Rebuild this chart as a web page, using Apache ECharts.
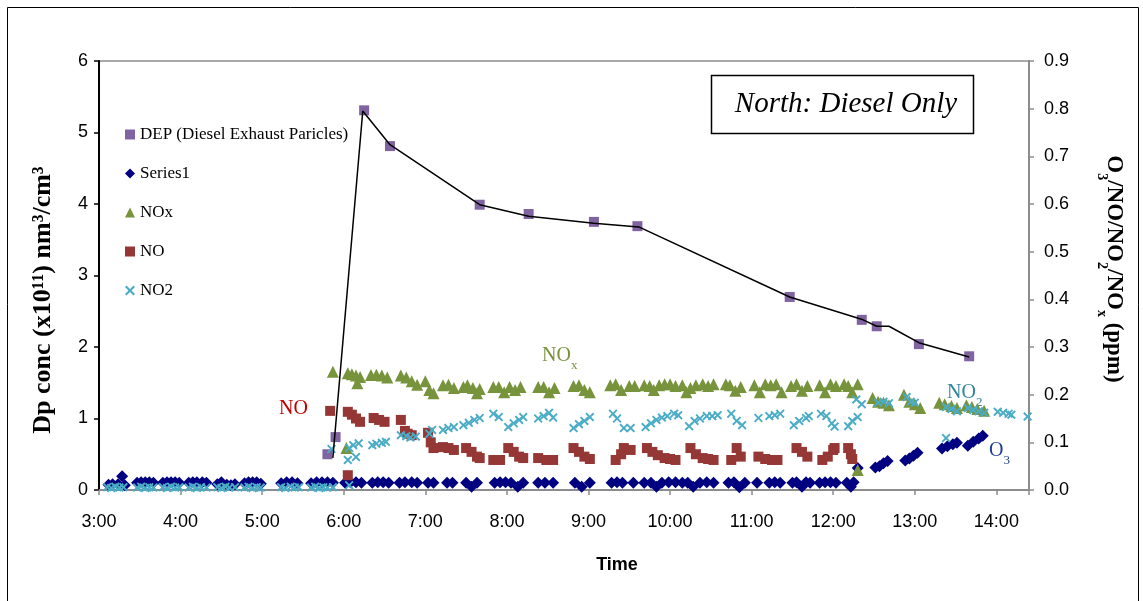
<!DOCTYPE html>
<html>
<head>
<meta charset="utf-8">
<script src="https://cdn.jsdelivr.net/npm/echarts@6/dist/echarts.min.js"></script>
<style>html,body{margin:0;padding:0;background:#fff}#c{width:1143px;height:601px}</style>
</head>
<body>
<div id="c"></div>
<script>
// ---- data (time "H:MM", value) ----
const xTickHours = [3,4,5,6,7,8,9,10,11,12,13,14];
const legendNames = ['DEP (Diesel Exhaust Paricles)','Series1','NOx','NO','NO2'];

// DEP particles (left axis, x10^11 nm3/cm3)
const dep = [['5:48',0.50],['5:54',0.74],['6:15',5.31],['6:34',4.81],['7:40',3.99],['8:16',3.86],['9:04',3.75],['9:36',3.69],['11:28',2.70],['12:21',2.38],['12:32',2.29],['13:03',2.04],['13:40',1.87]];
// black connecting line (left axis)
const depLine = [['5:52',0.45],['6:14',5.30],['6:34',4.83],['7:40',3.99],['8:16',3.83],['9:04',3.73],['9:37',3.68],['11:28',2.70],['12:22',2.38],['12:32',2.29],['12:41',2.29],['13:03',2.06],['13:40',1.86]];

// O3 = Series1 (right axis, ppm)
const o3 = [
['3:07',0.011],['3:10',0.012],['3:14',0.012],['3:17',0.029],['3:19',0.010],
['3:28',0.015],['3:31',0.016],['3:34',0.016],['3:37',0.016],['3:40',0.015],
['3:47',0.015],['3:50',0.016],['3:53',0.016],['3:56',0.016],['3:59',0.015],
['4:06',0.015],['4:09',0.016],['4:12',0.016],['4:16',0.016],['4:19',0.015],
['4:27',0.012],['4:30',0.016],['4:34',0.011],['4:37',0.010],['4:40',0.012],
['4:47',0.014],['4:50',0.016],['4:53',0.016],['4:56',0.016],['4:59',0.013],
['5:14',0.014],['5:18',0.016],['5:22',0.016],['5:26',0.014],
['5:36',0.014],['5:40',0.016],['5:44',0.016],['5:48',0.016],['5:52',0.015],
['6:01',0.015],['6:05',0.016],['6:09',0.016],['6:13',0.015],
['6:21',0.015],['6:25',0.016],['6:29',0.016],['6:33',0.015],
['6:41',0.015],['6:45',0.016],['6:50',0.016],['6:54',0.015],
['7:02',0.015],['7:06',0.015],['7:16',0.015],['7:20',0.015],
['7:30',0.015],['7:34',0.007],['7:38',0.015],
['7:51',0.015],['7:55',0.016],['7:59',0.016],['8:03',0.015],['8:08',0.007],['8:12',0.015],
['8:23',0.015],['8:28',0.015],['8:34',0.015],
['8:50',0.015],['8:55',0.007],['9:01',0.015],
['9:17',0.015],['9:21',0.016],['9:25',0.015],['9:33',0.015],
['9:41',0.015],['9:46',0.015],['9:50',0.007],['9:54',0.015],['9:59',0.016],['10:04',0.016],['10:09',0.015],['10:13',0.015],['10:17',0.007],['10:22',0.015],['10:27',0.016],['10:32',0.015],
['10:43',0.015],['10:47',0.016],['10:51',0.006],['10:55',0.015],
['11:04',0.015],['11:13',0.015],['11:17',0.016],['11:21',0.015],
['11:30',0.015],['11:33',0.016],['11:37',0.007],['11:40',0.016],['11:43',0.015],
['11:50',0.015],['11:54',0.016],['11:58',0.016],['12:02',0.015],
['12:10',0.015],['12:13',0.007],['12:15',0.016],
['12:18',0.046],
['12:31',0.047],['12:34',0.050],['12:37',0.056],['12:40',0.061],
['12:53',0.062],['12:56',0.066],['12:59',0.072],['13:02',0.078],
['13:20',0.087],['13:24',0.092],['13:28',0.096],['13:31',0.099],
['13:39',0.093],['13:43',0.101],['13:47',0.108],['13:50',0.114]
];

// NOx (right axis, ppm)
const nox = [
['5:52',0.248],['6:02',0.088],
['6:03',0.245],['6:06',0.243],['6:09',0.240],['6:10',0.224],['6:12',0.237],
['6:20',0.241],['6:24',0.242],['6:28',0.240],['6:32',0.236],
['6:42',0.240],['6:46',0.236],['6:50',0.228],['6:54',0.221],
['7:00',0.228],['7:03',0.210],['7:06',0.203],
['7:13',0.220],['7:17',0.221],['7:21',0.214],
['7:28',0.216],['7:31',0.220],['7:35',0.214],['7:38',0.203],['7:40',0.212],
['7:50',0.216],['7:54',0.216],['7:58',0.205],['8:02',0.216],['8:06',0.210],['8:10',0.216],
['8:23',0.216],['8:27',0.216],['8:31',0.205],['8:35',0.214],
['8:49',0.218],['8:53',0.220],['8:57',0.210],['9:01',0.205],
['9:16',0.220],['9:20',0.222],['9:24',0.210],['9:30',0.218],['9:34',0.218],
['9:41',0.220],['9:45',0.218],['9:48',0.210],['9:52',0.220],['9:56',0.222],['10:00',0.222],['10:04',0.218],
['10:09',0.220],['10:12',0.205],['10:15',0.214],['10:19',0.220],['10:24',0.222],['10:28',0.218],['10:32',0.222],
['10:41',0.222],['10:44',0.220],['10:48',0.208],['10:52',0.216],
['11:02',0.220],['11:06',0.205],['11:10',0.222],['11:14',0.220],['11:18',0.222],['11:22',0.205],
['11:29',0.218],['11:33',0.222],['11:37',0.208],['11:41',0.218],
['11:50',0.220],['11:54',0.205],['11:58',0.222],['12:02',0.218],
['12:08',0.222],['12:11',0.218],['12:14',0.205],['12:18',0.222],
['12:18',0.042],
['12:29',0.193],['12:33',0.185],['12:37',0.183],['12:41',0.178],
['12:52',0.200],['12:56',0.185],['13:00',0.180],['13:04',0.172],
['13:18',0.183],['13:22',0.180],['13:27',0.176],['13:31',0.172],
['13:38',0.178],['13:42',0.174],['13:46',0.170],['13:51',0.166]
];

// NO (right axis, ppm)
const no = [
['5:50',0.166],['6:03',0.031],
['6:03',0.164],['6:06',0.158],['6:09',0.150],['6:12',0.143],
['6:22',0.151],['6:26',0.147],['6:30',0.143],
['6:42',0.147],['6:45',0.124],['6:47',0.118],['6:50',0.115],
['7:02',0.120],['7:04',0.100],['7:06',0.088],
['7:13',0.090],['7:17',0.088],['7:21',0.084],
['7:30',0.088],['7:34',0.080],['7:38',0.070],['7:40',0.067],
['7:50',0.063],['7:55',0.063],
['8:01',0.088],['8:05',0.080],['8:09',0.070],['8:12',0.067],
['8:23',0.067],['8:29',0.063],['8:34',0.063],
['8:49',0.088],['8:53',0.080],['8:57',0.070],['9:01',0.065],
['9:20',0.063],['9:24',0.075],['9:26',0.088],['9:31',0.084],
['9:43',0.088],['9:47',0.080],['9:51',0.073],['9:56',0.067],['10:00',0.065],['10:04',0.063],
['10:15',0.088],['10:19',0.075],['10:24',0.067],['10:28',0.065],['10:32',0.063],
['10:45',0.063],['10:49',0.088],['10:52',0.070],
['11:05',0.070],['11:10',0.065],['11:15',0.063],['11:19',0.063],
['11:33',0.088],['11:37',0.080],['11:41',0.070],
['11:52',0.063],['11:56',0.070],['12:00',0.084],['12:01',0.088],
['12:11',0.088],['12:13',0.075],['12:14',0.065]
];

// NO2 (right axis, ppm)
const no2 = [
['3:06',0.006],['3:09',0.004],['3:12',0.007],['3:15',0.005],['3:18',0.006],
['3:28',0.005],['3:31',0.007],['3:34',0.004],['3:37',0.006],['3:40',0.005],
['3:47',0.006],['3:50',0.004],['3:53',0.007],['3:56',0.005],['3:59',0.006],
['4:06',0.005],['4:09',0.007],['4:12',0.004],['4:15',0.006],['4:19',0.005],
['4:27',0.006],['4:30',0.004],['4:33',0.007],['4:36',0.005],['4:40',0.006],
['4:47',0.005],['4:50',0.007],['4:53',0.004],['4:56',0.006],['4:59',0.005],
['5:14',0.006],['5:17',0.004],['5:21',0.007],['5:24',0.005],['5:27',0.006],
['5:36',0.005],['5:39',0.007],['5:42',0.004],['5:45',0.006],['5:48',0.005],['5:52',0.006],
['5:51',0.086],['6:04',0.010],
['6:03',0.063],['6:04',0.088],['6:07',0.094],['6:09',0.069],['6:11',0.098],
['6:21',0.094],['6:24',0.097],['6:28',0.099],['6:31',0.101],
['6:42',0.115],['6:46',0.113],['6:49',0.110],['6:53',0.112],
['7:03',0.118],['7:05',0.126],
['7:13',0.126],['7:17',0.130],['7:21',0.132],
['7:28',0.136],['7:32',0.141],['7:36',0.147],['7:40',0.151],
['7:50',0.160],['7:54',0.153],
['8:01',0.132],['8:05',0.140],['8:09',0.147],['8:12',0.153],
['8:23',0.150],['8:27',0.155],['8:31',0.162],['8:34',0.152],
['8:49',0.130],['8:53',0.138],['8:57',0.145],['9:01',0.153],
['9:18',0.160],['9:21',0.150],['9:26',0.130],['9:31',0.130],
['9:42',0.132],['9:46',0.140],['9:50',0.147],['9:54',0.152],['9:58',0.155],['10:03',0.160],['10:06',0.157],
['10:14',0.134],['10:18',0.145],['10:22',0.150],['10:27',0.155],['10:31',0.155],['10:35',0.157],
['10:45',0.160],['10:49',0.145],['10:53',0.136],
['11:05',0.151],['11:13',0.155],['11:17',0.157],['11:21',0.160],
['11:31',0.136],['11:35',0.145],['11:40',0.151],['11:42',0.155],
['11:51',0.160],['11:55',0.155],['11:59',0.140],['12:01',0.133],
['12:11',0.134],['12:14',0.145],['12:18',0.153],
['12:17',0.190],['12:21',0.180],
['12:33',0.183],['12:37',0.185],['12:41',0.182],
['12:54',0.195],['12:57',0.185],['13:00',0.183],
['13:23',0.109],
['13:23',0.174],['13:27',0.170],['13:31',0.165],
['13:39',0.172],['13:43',0.168],['13:47',0.165],['13:51',0.162],
['14:01',0.164],['14:05',0.162],['14:09',0.160],['14:11',0.158],
['14:23',0.154]
];

// ---- helpers ----
function hrs(s){ const p = s.split(':'); return +p[0] + (+p[1])/60; }
function pts(arr){ return arr.map(d => [hrs(d[0]), d[1]]); }

const SERIF = 'Liberation Serif';
const SANS = 'Liberation Sans';
const xPath = 'path://M0,1.5 L1.5,0 L5,3.5 L8.5,0 L10,1.5 L6.5,5 L10,8.5 L8.5,10 L5,6.5 L1.5,10 L0,8.5 L3.5,5 Z';

function subText(color, size, subSize, bold) {
  return {
    m: {fontFamily: SERIF, fontSize: size, fontWeight: bold ? 'bold' : 'normal', fill: color, color: color, lineHeight: Math.round(size*1.3), verticalAlign: 'top'},
    s: {fontFamily: SERIF, fontSize: subSize, fontWeight: bold ? 'bold' : 'normal', fill: color, color: color, lineHeight: subSize, verticalAlign: 'bottom'}
  };
}

const chart = echarts.init(document.getElementById('c'), null, {renderer:'canvas'});
chart.setOption({
  animation: false,
  backgroundColor: '#fff',
  grid: {left: 99, right: 114, top: 61, bottom: 111, show: true, borderColor: '#8c8c8c', borderWidth: 1.5},
  legend: {
    data: legendNames, orient: 'vertical', left: 120, top: 121,
    itemWidth: 10, itemHeight: 10, itemGap: 22, itemStyle: {borderWidth: 0},
    textStyle: {fontFamily: SERIF, fontSize: 17, color: '#000'}
  },
  xAxis: {
    type: 'value', min: 3, max: 14.4, interval: 1,
    axisLine: {show: true, lineStyle: {color: '#8c8c8c', width: 2}},
    axisTick: {show: true, length: 5, lineStyle: {color: '#8c8c8c', width: 1.5}},
    axisLabel: {fontFamily: SANS, fontSize: 18, color: '#000', margin: 23,
      formatter: v => Number.isInteger(v) && xTickHours.indexOf(v) >= 0 ? v + ':00' : ''},
    splitLine: {show: false}
  },
  yAxis: [
    {
      type: 'value', min: 0, max: 6, interval: 1, position: 'left',
      axisLine: {show: true, lineStyle: {color: '#000', width: 2}},
      axisTick: {show: true, length: 5, lineStyle: {color: '#000', width: 1.5}},
      axisLabel: {fontFamily: SANS, fontSize: 18, color: '#000', margin: 11},
      splitLine: {show: false}
    },
    {
      type: 'value', min: 0, max: 0.9, interval: 0.1, position: 'right',
      axisLine: {show: true, lineStyle: {color: '#8c8c8c', width: 2}},
      axisTick: {show: true, length: 5, lineStyle: {color: '#8c8c8c', width: 1.5}},
      axisLabel: {fontFamily: SANS, fontSize: 18, color: '#000', margin: 15, formatter: v => v.toFixed(1)},
      splitLine: {show: false}
    }
  ],
  series: [
    {name: legendNames[0], type: 'scatter', yAxisIndex: 0, symbol: 'rect', symbolSize: 10,
     itemStyle: {color: '#8064A2', opacity: 1}, data: pts(dep), z: 2},
    {name: legendNames[1], type: 'scatter', yAxisIndex: 1, symbol: 'diamond', symbolSize: 12,
     itemStyle: {color: '#000080', opacity: 1}, data: pts(o3), z: 3},
    {name: legendNames[2], type: 'scatter', yAxisIndex: 1, symbol: 'triangle', symbolSize: 12,
     itemStyle: {color: '#77933C', opacity: 1}, data: pts(nox), z: 4},
    {name: legendNames[3], type: 'scatter', yAxisIndex: 1, symbol: 'rect', symbolSize: 10,
     itemStyle: {color: '#953735', opacity: 1}, data: pts(no), z: 5},
    {name: legendNames[4], type: 'scatter', yAxisIndex: 1, symbol: xPath, symbolSize: 9,
     itemStyle: {color: '#4BACC6', opacity: 1}, data: pts(no2), z: 6},
    {name: 'DEP line', type: 'line', yAxisIndex: 0, showSymbol: false, symbol: 'none',
     lineStyle: {color: '#000', width: 1.5}, data: pts(depLine), z: 7}
  ],
  graphic: [
    {type: 'rect', shape: {x: 7.5, y: 7.5, width: 1131, height: 600}, style: {fill: 'none', stroke: '#000', lineWidth: 1}, silent: true},
    {type: 'rect', shape: {x: 1025, y: 78, width: 8, height: 56}, style: {fill: '#fff'}, silent: true},
    {type: 'rect', shape: {x: 711.5, y: 75.5, width: 262, height: 58}, style: {fill: '#fff', stroke: '#000', lineWidth: 1.5}},
    {type: 'text', x: 846, y: 104, style: {text: 'North: Diesel Only', fontFamily: SERIF, fontSize: 29, fontStyle: 'italic', fill: '#000', align: 'center', verticalAlign: 'middle'}},
    {type: 'text', x: 617, y: 565, style: {text: 'Time', fontFamily: SANS, fontSize: 18, fontWeight: 'bold', fill: '#000', align: 'center', verticalAlign: 'middle'}},
    {type: 'text', x: 43, y: 300, rotation: Math.PI/2, style: {text: 'Dp conc (x10¹¹) nm³/cm³', fontFamily: SERIF, fontSize: 26, fontWeight: 'bold', fill: '#000', align: 'center', verticalAlign: 'middle'}},
    {type: 'text', x: 1110, y: 269, rotation: -Math.PI/2, style: {text: '{m|O}{s|3}{m|/NO/NO}{s|2}{m|/NO}{s|x}{m| (ppm)}', rich: subText('#000', 23, 14, true), align: 'center', verticalAlign: 'middle'}},
    {type: 'text', x: 279, y: 399, style: {text: 'NO', fontFamily: SERIF, fontSize: 20, fill: '#C00000'}},
    {type: 'text', x: 542, y: 346, style: {text: '{m|NO}{s|x}', rich: subText('#77933C', 20, 13, false)}},
    {type: 'text', x: 947, y: 383, style: {text: '{m|NO}{s|2}', rich: subText('#31859C', 20, 13, false)}},
    {type: 'text', x: 989, y: 441, style: {text: '{m|O}{s|3}', rich: subText('#1F3F8F', 20, 13, false)}}
  ]
});
</script>
</body>
</html>
